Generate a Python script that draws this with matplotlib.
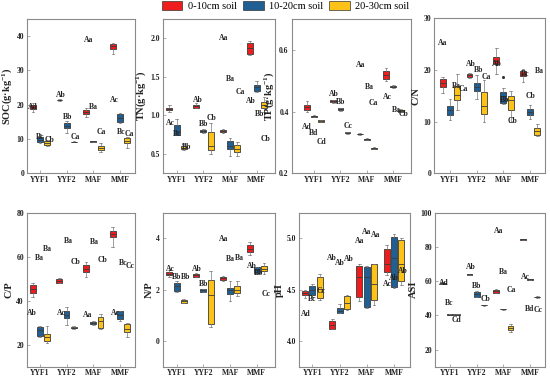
import matplotlib
matplotlib.use("Agg")
import matplotlib.pyplot as plt
from matplotlib.patches import Patch

plt.rcParams['font.family'] = ['Liberation Serif', 'DejaVu Serif']
plt.rcParams['mathtext.fontset'] = 'custom'
plt.rcParams['mathtext.rm'] = 'Liberation Serif:bold'
plt.rcParams['mathtext.default'] = 'regular'

# ---------------- data ----------------
sites = ["YYF1", "YYF2", "MAF", "MMF"]
depths = ["0-10cm soil", "10-20cm soil", "20-30cm soil"]
depth_colors = ["#ee1c1c", "#1f5f94", "#fcc218"]

# each: [depth][site] = [whislo, q1, median, q3, whishi]
SOC = [
    [[17.8, 18.7, 19.2, 19.8, 20.4], [21.2, 21.3, 21.4, 21.5, 21.6], [16.5, 17.2, 17.8, 18.5, 19.0], [34.8, 36.3, 37.0, 37.7, 38.0]],
    [[8.8, 9.2, 9.8, 10.5, 11.5], [11.8, 13.2, 13.8, 14.6, 15.3], [9.2, 9.25, 9.3, 9.35, 9.4], [14.8, 15.0, 16.0, 17.2, 17.5]],
    [[8.0, 8.3, 8.8, 9.3, 9.6], [9.0, 9.1, 9.2, 9.25, 9.3], [6.2, 6.8, 7.3, 8.0, 8.8], [7.5, 8.8, 9.5, 10.2, 10.5]],
]
TN = [
    [[1.05, 1.07, 1.085, 1.10, 1.13], [1.09, 1.10, 1.12, 1.13, 1.16], [0.77, 0.785, 0.80, 0.81, 0.82], [1.78, 1.79, 1.88, 1.935, 1.97]],
    [[0.74, 0.75, 0.80, 0.87, 0.95], [0.77, 0.79, 0.80, 0.815, 0.83], [0.48, 0.56, 0.60, 0.67, 0.71], [1.30, 1.32, 1.37, 1.40, 1.44]],
    [[0.55, 0.57, 0.58, 0.60, 0.63], [0.50, 0.55, 0.60, 0.78, 0.90], [0.48, 0.52, 0.56, 0.62, 0.65], [1.04, 1.09, 1.14, 1.17, 1.24]],
]
TP = [
    [[0.400, 0.405, 0.415, 0.421, 0.434], [0.428, 0.430, 0.433, 0.436, 0.438], [0.325, 0.326, 0.327, 0.328, 0.329], [0.500, 0.507, 0.520, 0.531, 0.540]],
    [[0.383, 0.384, 0.385, 0.387, 0.388], [0.403, 0.406, 0.408, 0.410, 0.412], [0.308, 0.309, 0.310, 0.312, 0.313], [0.478, 0.479, 0.481, 0.484, 0.485]],
    [[0.365, 0.366, 0.369, 0.372, 0.373], [0.328, 0.329, 0.331, 0.333, 0.334], [0.278, 0.279, 0.281, 0.283, 0.284], [0.399, 0.400, 0.403, 0.406, 0.407]],
]
CN = [
    [[15.6, 16.8, 17.5, 18.2, 18.7], [18.5, 18.7, 19.0, 19.2, 19.4], [19.2, 21.1, 21.8, 22.6, 24.3], [17.7, 18.8, 19.3, 19.8, 20.1]],
    [[10.3, 11.3, 12.3, 13.1, 14.3], [14.3, 15.9, 16.7, 17.4, 19.0], [13.5, 13.7, 15.0, 15.8, 16.5], [10.6, 11.3, 11.9, 12.4, 13.2]],
    [[12.3, 14.2, 15.2, 16.9, 19.3], [10.0, 11.5, 13.0, 15.7, 18.0], [10.0, 12.3, 14.2, 14.9, 16.0], [7.3, 7.5, 8.2, 8.7, 9.5]],
]
CN_FLIERS = [[[], [], [], []], [[], [], [18.7], []], [[], [], [], []]]
CP = [
    [[41.8, 43.3, 45.5, 47.3, 48.0], [48.0, 48.2, 49.0, 49.9, 50.2], [50.8, 52.9, 54.5, 56.4, 57.5], [64.5, 68.8, 70.5, 71.8, 73.5]],
    [[23.5, 24.1, 26.5, 27.9, 28.5], [29.0, 32.1, 33.5, 35.1, 37.0], [29.0, 29.3, 30.0, 30.5, 30.8], [31.0, 31.7, 33.5, 35.1, 35.5]],
    [[21.0, 21.8, 23.5, 24.9, 28.6], [27.2, 27.5, 27.8, 28.2, 28.5], [27.0, 27.6, 31.0, 32.4, 34.0], [23.5, 25.6, 27.2, 29.4, 29.7]],
]
NP = [
    [[2.50, 2.57, 2.63, 2.69, 2.75], [2.48, 2.50, 2.57, 2.62, 2.65], [2.33, 2.38, 2.45, 2.49, 2.52], [3.35, 3.47, 3.60, 3.73, 3.85]],
    [[1.90, 1.95, 2.15, 2.27, 2.35], [1.90, 1.92, 1.97, 2.01, 2.03], [1.55, 1.84, 1.97, 2.05, 2.35], [2.62, 2.66, 2.78, 2.88, 2.90]],
    [[1.48, 1.49, 1.55, 1.60, 1.65], [0.55, 0.67, 1.80, 2.38, 2.72], [1.75, 1.88, 2.00, 2.14, 2.35], [2.62, 2.73, 2.82, 2.92, 3.05]],
]
PH = [
    [[4.42, 4.45, 4.47, 4.49, 4.50], [4.12, 4.12, 4.16, 4.20, 4.21], [4.39, 4.43, 4.62, 4.73, 4.75], [4.64, 4.67, 4.75, 4.90, 4.94]],
    [[4.43, 4.445, 4.50, 4.54, 4.56], [4.27, 4.27, 4.29, 4.32, 4.36], [4.32, 4.33, 4.62, 4.72, 4.73], [4.52, 4.53, 4.81, 5.01, 5.04]],
    [[4.40, 4.42, 4.51, 4.62, 4.65], [4.30, 4.31, 4.37, 4.44, 4.45], [4.35, 4.40, 4.56, 4.75, 4.75], [4.55, 4.58, 4.75, 4.98, 5.00]],
]
ASI = [
    [[58.4, 58.6, 58.9, 59.2, 59.4], [63.5, 63.7, 64.0, 64.2, 64.4], [53.0, 53.3, 54.0, 55.0, 55.2], [84.2, 84.3, 84.5, 84.7, 84.8]],
    [[40.2, 40.3, 40.5, 40.7, 40.8], [50.5, 50.8, 52.3, 53.7, 54.0], [43.4, 43.5, 43.7, 43.9, 44.0], [60.6, 60.7, 61.0, 61.2, 61.3]],
    [[40.1, 40.2, 40.5, 40.8, 40.9], [45.7, 45.8, 46.0, 46.2, 46.3], [30.0, 31.3, 32.5, 33.8, 35.0], [50.4, 50.5, 50.8, 51.0, 51.1]],
]

# significance letters: (text, x, y) in data coordinates
SOC_LABELS = [("Ad", 0.74, 19.4), ("Bc", 1.0, 10.7), ("Cb", 1.35, 9.8), ("Ab", 1.77, 22.9), ("Bb", 2.05, 16.5),
              ("Ca", 2.33, 10.7), ("Aa", 2.83, 39.0), ("Ba", 3.0, 19.2), ("Ca", 3.29, 12.0), ("Ac", 3.78, 21.4),
              ("Bc", 4.03, 12.0), ("Ca", 4.36, 11.4)]
TN_LABELS = [("Ac", 0.78, 0.90), ("Bc", 1.02, 0.76), ("Bb", 1.37, 0.585), ("Ab", 1.81, 1.20), ("Bb", 2.0, 0.89),
             ("Cb", 2.31, 0.965), ("Aa", 2.77, 2.01), ("Ba", 3.0, 1.47), ("Ca", 3.37, 1.31), ("Ab", 3.78, 1.19),
             ("Bb", 4.09, 1.02), ("Cb", 4.34, 0.70)]
TP_LABELS = [("Ad", 0.71, 0.351), ("Bd", 1.0, 0.329), ("Cd", 1.28, 0.302), ("Ab", 1.75, 0.457), ("Bb", 2.02, 0.43),
             ("Cc", 2.29, 0.353), ("Aa", 2.78, 0.55), ("Ba", 3.08, 0.48), ("Ca", 3.24, 0.427), ("Ac", 3.79, 0.448),
             ("Ba", 4.13, 0.405), ("Cb", 4.38, 0.392)]
CN_LABELS = [("Aa", 0.73, 25.2), ("Ba", 1.25, 16.8), ("Ca", 1.5, 16.3), ("Ab", 1.78, 21.1), ("Bb", 2.06, 20.0),
             ("Ca", 2.37, 18.7), ("Ab", 2.77, 21.1), ("Bb", 3.03, 14.2), ("Cb", 3.33, 10.1), ("Bc", 3.81, 19.3),
             ("Ba", 4.34, 19.8), ("Cb", 4.02, 15.0)]
CP_LABELS = [("Ba", 0.97, 59.4), ("Ba", 1.27, 63.5), ("Ab", 0.71, 34.2), ("Ba", 2.06, 67.0), ("Cb", 2.35, 57.4),
             ("Ac", 1.81, 34.2), ("Ba", 3.03, 66.5), ("Cb", 3.35, 58.5), ("Aa", 2.77, 33.6), ("Ac", 3.81, 34.2),
             ("Bc", 4.10, 57.0), ("Cc", 4.37, 55.9)]
NP_LABELS = [("Ac", 0.75, 2.79), ("Bb", 1.0, 2.49), ("Bb", 1.35, 2.49), ("Ab", 1.75, 2.79), ("Bb", 2.0, 2.21),
             ("Aa", 2.77, 3.99), ("Ba", 3.0, 3.18), ("Ba", 3.34, 3.22), ("Ab", 3.81, 2.92), ("Bb", 4.08, 2.66),
             ("Cc", 4.34, 1.84)]
PH_LABELS = [("Ad", 0.76, 4.26), ("Bc", 1.0, 4.41), ("Cc", 1.32, 4.49), ("Ab", 1.71, 4.81), ("Ab", 2.02, 4.76),
             ("Ab", 2.35, 4.80), ("Aa", 2.75, 4.97), ("Aa", 3.0, 5.06), ("Aa", 3.31, 5.03), ("Ac", 3.75, 4.56),
             ("Ab", 4.01, 4.61), ("Ab", 4.32, 4.68)]
ASI_LABELS = [("Ad", 0.75, 59.0), ("Bc", 0.97, 47.2), ("Cd", 1.25, 37.5), ("Ab", 1.77, 68.3), ("Bb", 2.0, 57.0),
              ("Cb", 2.35, 49.8), ("Aa", 2.81, 89.2), ("Ba", 3.02, 65.4), ("Ca", 3.31, 55.1), ("Ac", 3.81, 62.5),
              ("Bd", 3.97, 44.0), ("Cc", 4.31, 43.0)]

# ---------------- layout ----------------
W, H = 550, 379
fig = plt.figure(figsize=(W / 100, H / 100), dpi=100)


def rect(l, r, t, b):
    return [l / W, 1 - b / H, (r - l) / W, (b - t) / H]


panels = [
    (SOC, None, SOC_LABELS, "SOC(g·kg$^{-1}$)", rect(27, 135, 19, 173.3), (0.51, 4.56), (0, 45), [0, 10, 20, 30, 40], "{:.0f}"),
    (TN, None, TN_LABELS, "TN(g·kg$^{-1}$)", rect(162.7, 275, 19, 173.3), (0.48, 4.68), (0.25, 2.25), [0.5, 1.0, 1.5, 2.0], "{:.1f}"),
    (TP, None, TP_LABELS, "TP(g·kg$^{-1}$)", rect(291.5, 411, 19, 173.3), (0.15, 4.67), (0.2, 0.7), [0.2, 0.4, 0.6], "{:.1f}"),
    (CN, CN_FLIERS, CN_LABELS, "C/N", rect(434, 545, 18.3, 173.3), (0.40, 4.56), (0, 30), [0, 10, 20, 30], "{:.0f}"),
    (CP, None, CP_LABELS, "C/P", rect(26.7, 135, 212.7, 366.7), (0.51, 4.56), (10, 80), [20, 40, 60, 80], "{:.0f}"),
    (NP, None, NP_LABELS, "N/P", rect(162.7, 275, 212.7, 366.7), (0.48, 4.68), (-1, 5), [0, 2, 4], "{:.0f}"),
    (PH, None, PH_LABELS, "pH", rect(299, 410, 212.7, 366.7), (0.51, 4.59), (3.75, 5.25), [4.0, 4.5, 5.0], "{:.1f}"),
    (ASI, None, ASI_LABELS, "ASI", rect(435, 545, 212.7, 366.7), (0.44, 4.56), (10, 100), [20, 40, 60, 80, 100], "{:.0f}"),
]

offsets = [-0.27, 0.0, 0.27]
spine_col = "#8a8a8a"
txt_col = "#222222"

for data, fliers, labels, ylabel, pos, xl, yl, yticks, fmt in panels:
    ax = fig.add_axes(pos)
    for d in range(3):
        stats = []
        for s in range(4):
            lo, q1, med, q3, hi = data[d][s]
            fl = fliers[d][s] if fliers is not None else []
            stats.append(dict(whislo=lo, q1=q1, med=med, q3=q3, whishi=hi, fliers=fl))
        ax.bxp(stats, positions=[i + 1 + offsets[d] for i in range(4)], widths=0.22,
               patch_artist=True, manage_ticks=False, capwidths=0.1,
               boxprops=dict(facecolor=depth_colors[d], edgecolor="#3a3a3a", linewidth=0.6),
               medianprops=dict(color="#3a3a3a", linewidth=0.6),
               whiskerprops=dict(color="#777777", linewidth=0.5),
               capprops=dict(color="#777777", linewidth=0.5),
               flierprops=dict(marker="o", markersize=1.2, markerfacecolor="#333333",
                               markeredgecolor="#333333"))
    for t, x, y in labels:
        ax.text(x, y, t, ha="center", va="center", fontsize=5.5, fontweight="bold", color=txt_col)
    ax.set_xlim(*xl)
    ax.set_ylim(*yl)
    ax.set_xticks(range(1, 5))
    ax.set_xticklabels(sites)
    ax.set_yticks(yticks)
    ax.set_yticklabels([fmt.format(v) for v in yticks])
    for lab in ax.get_xticklabels() + ax.get_yticklabels():
        lab.set_fontweight("bold")
        lab.set_fontsize(5.5)
        lab.set_color(txt_col)
    ax.tick_params(axis="both", direction="in", length=2, width=0.5, color=spine_col, pad=2)
    ax.set_ylabel(ylabel, fontsize=7.5, fontweight="bold", color=txt_col, labelpad=2)
    for sp in ax.spines.values():
        sp.set_color(spine_col)
        sp.set_linewidth(0.8)

handles = [Patch(facecolor=c, edgecolor="#333333", linewidth=0.5) for c in depth_colors]
fig.legend(handles, depths, loc="upper center", bbox_to_anchor=(0.519, 1.012), ncol=3, frameon=False,
           fontsize=7.5, handlelength=2.0, handleheight=1.0, handletextpad=0.5, columnspacing=0.6,
           borderaxespad=0.1)

fig.savefig("out.png", dpi=100)
